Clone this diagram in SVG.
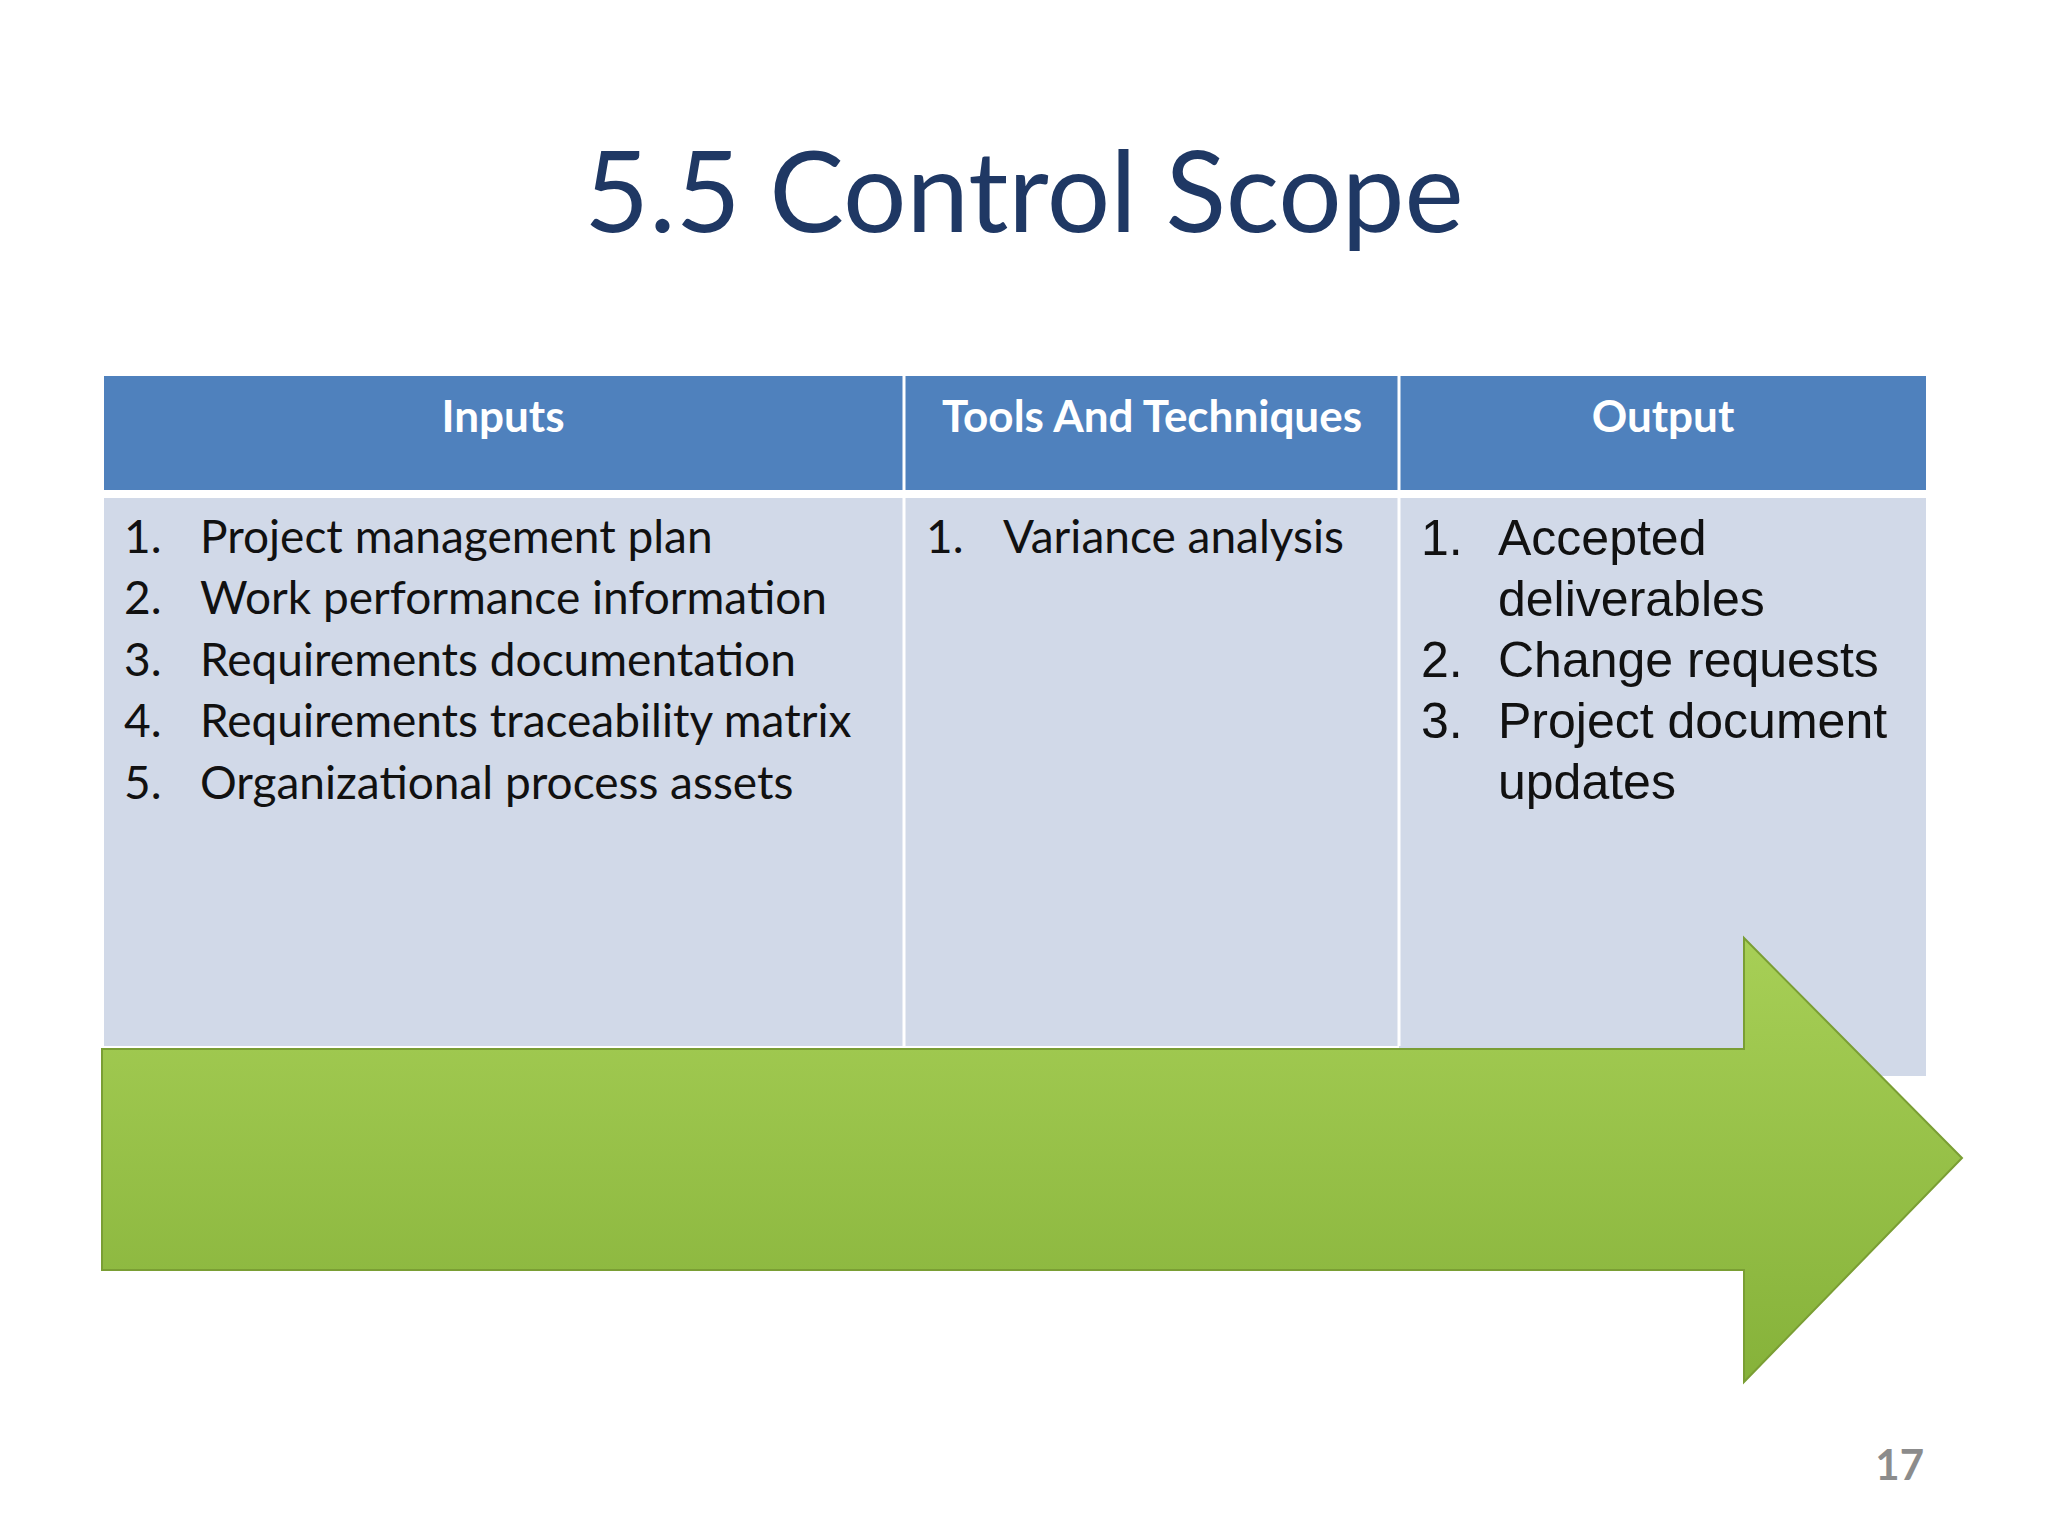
<svg xmlns="http://www.w3.org/2000/svg" width="2048" height="1536" viewBox="0 0 2048 1536">
<defs>
<style>
.t{font-family:Lato,"Noto Sans",sans-serif;}
.h{font-family:Lato,"Noto Sans",sans-serif;font-weight:bold;font-size:44px;fill:#fff;text-anchor:middle}
.b{font-family:Lato,"Noto Sans",sans-serif;font-size:46px;fill:#111}
.o{font-family:"Liberation Sans",Arial,sans-serif;font-size:50px;fill:#111}
</style>
<linearGradient id="g" x1="0" y1="0" x2="0" y2="1">
<stop offset="0" stop-color="#a7cf56"/><stop offset="1" stop-color="#86b23a"/>
</linearGradient>
</defs>
<rect width="2048" height="1536" fill="#fff"/>
<text x="1024" y="232" class="t" font-size="112" fill="#1f3864" text-anchor="middle">5.5 Control Scope</text>
<g id="table">
<rect x="104" y="376" width="1822" height="114" fill="#4f81bd"/>
<rect x="104" y="498" width="1822" height="548" fill="#d1d9e8"/>
<rect x="1399" y="1040" width="527" height="36" fill="#d1d9e8"/>
<line x1="904" y1="376" x2="904" y2="1046" stroke="#fff" stroke-width="3"/>
<line x1="1399" y1="376" x2="1399" y2="1046" stroke="#fff" stroke-width="3"/>
<text x="503" y="432" class="h">Inputs</text>
<text x="1152" y="432" class="h">Tools And Techniques</text>
<text x="1663" y="432" class="h">Output</text>
</g>
<g id="arrow">
<polygon points="102,1049 1744,1049 1744,938 1962,1158 1744,1382 1744,1270 102,1270" fill="url(#g)" stroke="#7a9e34" stroke-width="2"/>
</g>
<g id="inputs" class="b">
<text x="124" y="553">1.</text><text x="200" y="553">Project management plan</text>
<text x="124" y="614">2.</text><text x="200" y="614">Work performance information</text>
<text x="124" y="676">3.</text><text x="200" y="676">Requirements  documentation</text>
<text x="124" y="737">4.</text><text x="200" y="737">Requirements traceability matrix</text>
<text x="124" y="799">5.</text><text x="200" y="799">Organizational process assets</text>
</g>
<g id="tools" class="b">
<text x="926" y="553">1.</text><text x="1003" y="553">Variance analysis</text>
</g>
<g id="output" class="o">
<text x="1421" y="555">1.</text><text x="1498" y="555">Accepted</text>
<text x="1498" y="616">deliverables</text>
<text x="1421" y="677">2.</text><text x="1498" y="677">Change requests</text>
<text x="1421" y="738">3.</text><text x="1498" y="738">Project document</text>
<text x="1498" y="799">updates</text>
</g>
<text x="1924" y="1480" class="t" font-size="42" font-weight="bold" fill="#8c8c8c" text-anchor="end">17</text>
</svg>
